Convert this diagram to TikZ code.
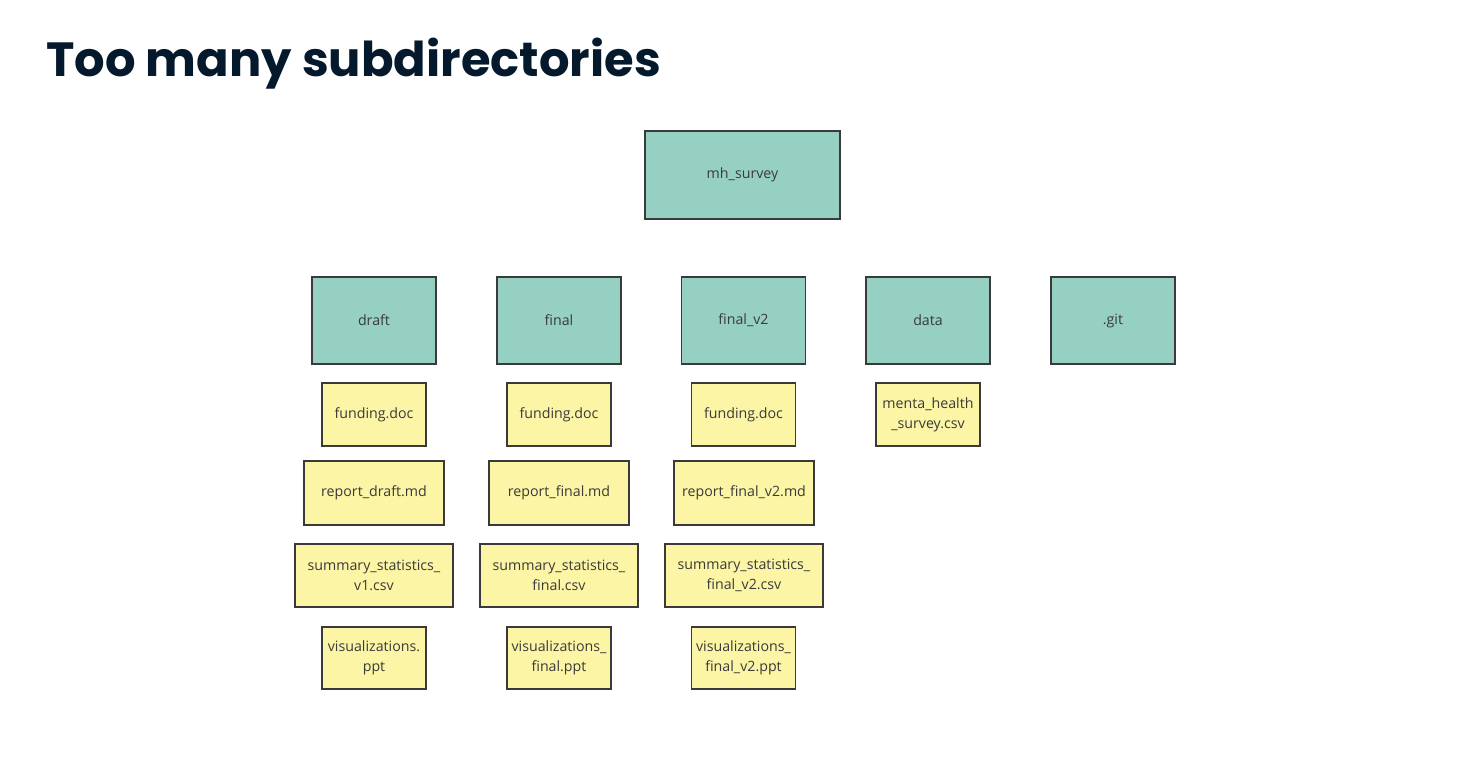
\documentclass[tikz,border=0pt]{standalone}
\usepackage{fontspec}
\setmainfont{Open Sans}
\newfontfamily\titlefont{Poppins}
\definecolor{teal}{HTML}{96D0C3}
\definecolor{yel}{HTML}{FBF5A5}
\definecolor{edge}{HTML}{3A3A3A}
\definecolor{navy}{HTML}{05192D}
\begin{document}
\begin{tikzpicture}[x=1pt,y=1pt,
  box/.style={draw=edge, line width=1.8pt, inner sep=0pt, align=center, text=edge,
    font=\fontsize{14.2}{20}\selectfont},
  folder/.style={box, fill=teal},
  file/.style={box, fill=yel},
  small/.style={minimum width=104pt, minimum height=63pt},
  mid/.style={minimum width=140pt, minimum height=64pt},
  wide/.style={minimum width=158pt, minimum height=63pt},
  dir/.style={folder, minimum width=124pt, minimum height=87pt}]
\useasboundingbox (0,0) rectangle (1480,-760);
\node[anchor=base west, inner sep=0pt, text=navy, font=\titlefont\bfseries\fontsize{48}{58}\selectfont] (title) at (46,-77) {Too many subdirectories};

\node[folder, minimum width=195pt, minimum height=88pt] (root) at (742.5,-175) {mh\_survey};

\node[dir] (draft) at (374,-320.5) {draft};
\node[dir] (final) at (559,-320.5) {final};
\node[dir] (finalv2) at (743.5,-320.5) {final\_v2};
\node[dir] (data) at (928,-320.5) {data};
\node[dir] (git) at (1113,-320.5) {.git};

\node[file, small] (f1) at (374,-414.5) {funding.doc};
\node[file, small] (f2) at (559,-414.5) {funding.doc};
\node[file, small] (f3) at (743.5,-414.5) {funding.doc};
\node[file, small] (f4) at (928,-414.5) {menta\_health\\\_survey.csv};

\node[file, mid] (r1) at (374,-493) {report\_draft.md};
\node[file, mid] (r2) at (559,-493) {report\_final.md};
\node[file, mid] (r3) at (744,-493) {report\_final\_v2.md};

\node[file, wide] (s1) at (374,-575.5) {summary\_statistics\_\\v1.csv};
\node[file, wide] (s2) at (559,-575.5) {summary\_statistics\_\\final.csv};
\node[file, wide] (s3) at (744,-575.5) {summary\_statistics\_\\final\_v2.csv};

\node[file, small, minimum height=62pt] (v1) at (374,-658) {visualizations.\\ppt};
\node[file, small, minimum height=62pt] (v2) at (559,-658) {visualizations\_\\final.ppt};
\node[file, small, minimum height=62pt] (v3) at (743.5,-658) {visualizations\_\\final\_v2.ppt};
\end{tikzpicture}
\end{document}
